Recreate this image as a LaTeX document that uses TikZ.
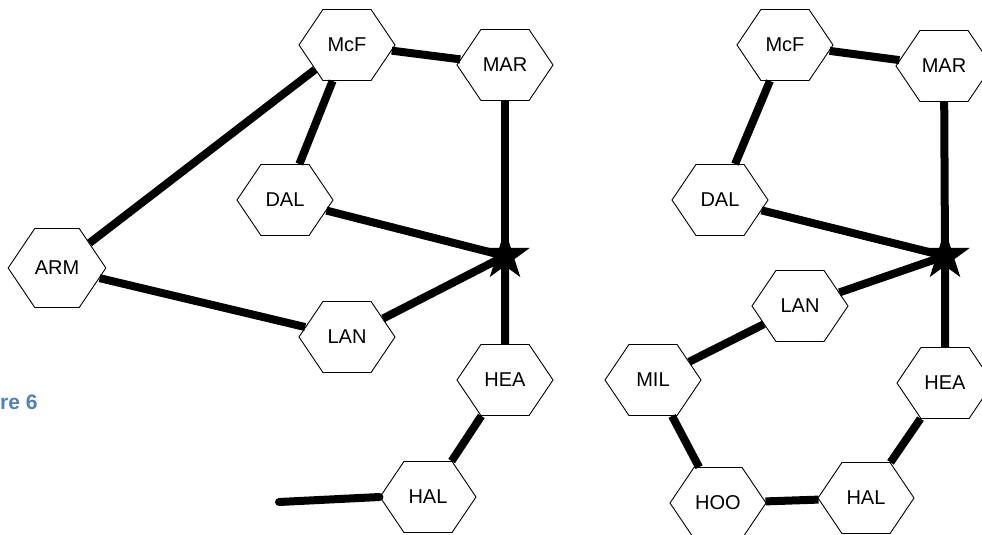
\documentclass[tikz,border=0pt]{standalone}
\usepackage{fontspec}
\setmainfont{Liberation Sans}
\usetikzlibrary{shapes.symbols,shapes.geometric}
\definecolor{figblue}{HTML}{4F81BD}
\tikzset{
  hexnode/.style={shape=signal, signal to=west and east, signal pointer angle=112,
    draw=black, line width=0.9pt, fill=white, minimum width=96pt, minimum height=71pt,
    inner sep=0pt, font=\fontsize{20}{23}\selectfont},
  starnode/.style={shape=star, star points=5, star point ratio=2.6, minimum size=52pt,
    inner sep=0pt, fill=black, draw=none},
  link/.style={line width=8pt, black},
}
\begin{document}
\begin{tikzpicture}[x=1pt,y=-1pt]
\useasboundingbox (0,0) rectangle (982,535);
% left diagram
\node[hexnode] (lMcF) at (347,45) {McF};
\node[hexnode] (lMAR) at (505,65) {MAR};
\node[hexnode] (lDAL) at (285,200) {DAL};
\node[hexnode, minimum width=94pt, minimum height=79pt] (lARM) at (57,268) {ARM};
\node[hexnode] (lLAN) at (347,337) {LAN};
\node[hexnode] (lHEA) at (505,380) {HEA};
\node[hexnode] (lHAL) at (428,497) {HAL};
\node[starnode] (lStar) at (505,256) {};
\coordinate (lEnd) at (279,502);
% right diagram
\node[hexnode] (rMcF) at (785,45) {McF};
\node[hexnode] (rMAR) at (944,66) {MAR};
\node[hexnode] (rDAL) at (720,200) {DAL};
\node[hexnode] (rLAN) at (800,306) {LAN};
\node[hexnode] (rMIL) at (653,380) {MIL};
\node[hexnode] (rHEA) at (945,383) {HEA};
\node[hexnode] (rHOO) at (718,503) {HOO};
\node[hexnode] (rHAL) at (866,498) {HAL};
\node[starnode] (rStar) at (945,256) {};
% caption fragment
\node[anchor=east, text=figblue, font=\fontsize{21}{24}\selectfont\bfseries] (cap) at (41,402) {re 6};
% left connectors
\draw[link] (lMcF) -- (lMAR);
\draw[link] (lMcF) -- (lDAL);
\draw[link] (lMcF) -- (lARM);
\draw[link] (lARM) -- (lLAN);
\draw[link] (lDAL) -- (lStar.center);
\draw[link] (lLAN) -- (lStar.center);
\draw[link] (lMAR) -- (lStar.center);
\draw[link] (lHEA) -- (lStar.center);
\draw[link] (lHEA) -- (lHAL);
\draw[link, line cap=round] (lHAL.west) -- (lEnd);
% right connectors
\draw[link] (rMcF) -- (rMAR);
\draw[link] (rMcF) -- (rDAL);
\draw[link] (rDAL) -- (rStar.center);
\draw[link] (rLAN) -- (rStar.center);
\draw[link] (rMAR) -- (rStar.center);
\draw[link] (rHEA) -- (rStar.center);
\draw[link] (rLAN) -- (rMIL);
\draw[link] (rMIL) -- (rHOO);
\draw[link] (rHOO) -- (rHAL);
\draw[link] (rHAL) -- (rHEA);
\end{tikzpicture}
\end{document}
